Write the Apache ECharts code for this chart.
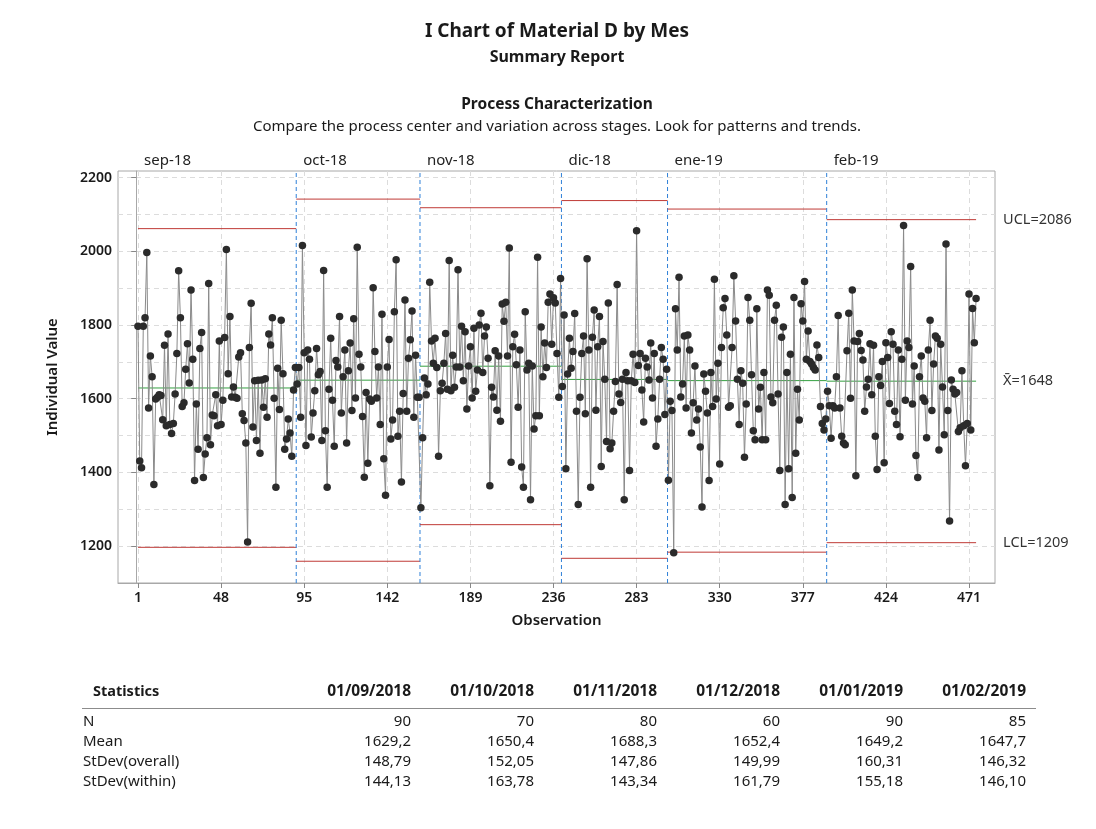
<!DOCTYPE html>
<html>
<head>
<meta charset="utf-8">
<title>I Chart of Material D by Mes</title>
<script src="https://cdn.jsdelivr.net/npm/echarts@6/dist/echarts.min.js"></script>
<style>
  html, body { margin: 0; padding: 0; background: #ffffff; }
  #chart { width: 1096px; height: 829px; }
</style>
</head>
<body>
<div id="chart"></div>
<script>
// Individual values per monthly stage
const sepValues = [1797,1431,1413,1797,1820,1997,1575,1716,1660,1367,
  1599,1604,1611,1609,1543,1745,1527,1776,1530,1506,
  1533,1613,1723,1947,1820,1579,1589,1680,1749,1643,
  1895,1707,1378,1586,1463,1736,1780,1386,1450,1494,
  1913,1475,1556,1554,1611,1527,1757,1530,1596,1766,
  2005,1668,1823,1605,1632,1604,1601,1713,1725,1559,
  1541,1480,1211,1739,1859,1523,1649,1487,1650,1452,
  1651,1577,1654,1550,1776,1746,1820,1601,1360,1683,
  1571,1813,1668,1463,1491,1545,1507,1444,1624,1685];
const octValues = [1640,1685,1550,2016,1725,1473,1732,1707,1496,1561,
  1622,1736,1665,1674,1487,1948,1513,1360,1626,1764,
  1596,1471,1704,1686,1823,1561,1660,1732,1480,1676,
  1751,1568,1817,1602,2011,1721,1686,1552,1387,1617,
  1425,1599,1593,1901,1728,1602,1686,1530,1829,1437,
  1338,1686,1761,1491,1542,1836,1977,1498,1566,1374,
  1614,1868,1566,1710,1760,1838,1550,1718,1604,1604];
const novValues = [1304,1494,1656,1611,1640,1916,1757,1696,1764,1685,
  1444,1622,1642,1696,1777,1626,1975,1622,1718,1631,
  1686,1950,1686,1797,1649,1782,1572,1689,1741,1602,
  1791,1620,1678,1800,1832,1671,1770,1795,1710,1364,
  1631,1605,1730,1569,1716,1539,1857,1810,1862,1716,
  2009,1428,1741,1775,1692,1577,1732,1415,1360,1836,
  1678,1696,1326,1689,1518,1554,1984,1554,1795,1660,
  1751,1685,1862,1884,1748,1874,1860,1723,1604,1926];
const dicValues = [1633,1827,1410,1667,1764,1683,1728,1831,1566,1313,
  1604,1723,1770,1559,1980,1732,1360,1767,1841,1569,
  1741,1823,1416,1755,1653,1484,1860,1464,1480,1566,
  1647,1910,1613,1590,1653,1326,1671,1649,1405,1649,
  1721,1644,2056,1690,1723,1624,1537,1710,1686,1651,
  1751,1602,1723,1471,1545,1653,1739,1707,1557,1680];
const eneValues = [1379,1593,1568,1182,1844,1732,1930,1605,1640,1770,
  1575,1773,1732,1507,1589,1689,1542,1572,1469,1306,
  1667,1620,1561,1378,1671,1579,1924,1599,1696,1423,
  1739,1847,1872,1773,1577,1581,1739,1934,1811,1653,
  1530,1676,1642,1441,1586,1875,1813,1665,1513,1489,
  1844,1572,1631,1489,1671,1489,1895,1881,1605,1589,
  1813,1854,1613,1405,1767,1795,1313,1671,1410,1721,
  1332,1875,1452,1626,1542,1858,1811,1918,1707,1784,
  1701,1694,1685,1678,1746,1712,1579,1533,1515,1545];
const febValues = [1620,1581,1493,1581,1575,1660,1826,1575,1498,1480,
  1475,1730,1832,1601,1895,1757,1391,1755,1777,1731,
  1705,1566,1632,1653,1749,1611,1745,1498,1408,1660,
  1636,1701,1426,1752,1712,1587,1782,1748,1566,1530,
  1732,1497,1707,2070,1596,1757,1739,1959,1586,1689,
  1446,1386,1660,1716,1602,1593,1494,1732,1813,1568,
  1694,1770,1764,1461,1748,1632,1502,2020,1568,1268,
  1651,1626,1613,1617,1511,1521,1676,1527,1418,1533,
  1884,1515,1845,1752,1872];

// Stage summary statistics
const stageNames = ['sep-18','oct-18','nov-18','dic-18','ene-19','feb-19'];
const stageDates = ['01/09/2018','01/10/2018','01/11/2018','01/12/2018','01/01/2019','01/02/2019'];
const stageN = [90,70,80,60,90,85];
const stageMean = [1629.2,1650.4,1688.3,1652.4,1649.2,1647.7];
const stageSdOverall = [148.79,152.05,147.86,149.99,160.31,146.32];
const stageSdWithin = [144.13,163.78,143.34,161.79,155.18,146.10];

// Axis ticks
const xTicks = [1,48,95,142,189,236,283,330,377,424,471];
const yTicks = [1200,1400,1600,1800,2000,2200];
const yGridLines = [1200,1300,1400,1500,1600,1700,1800,1900,2000,2100,2200];

const stageValues = [sepValues, octValues, novValues, dicValues, eneValues, febValues];

const FONT = 'Noto Sans';
const RED = '#bf3a36';
const GREEN = '#34a040';
const BLUE = '#2f80d8';
const Y_MIN = 1100, Y_MAX = 2218;

// observation index / value pairs
const points = [];
let obs = 0;
stageValues.forEach(arr => arr.forEach(v => { obs += 1; points.push([obs, v]); }));

// stage extents and limits (centre ± 3 σ within)
const stages = [];
let cum = 0;
stageN.forEach((n, i) => {
  const first = cum + 1, last = cum + n;
  stages.push({ first, last, mean: stageMean[i],
    ucl: stageMean[i] + 3 * stageSdWithin[i],
    lcl: stageMean[i] - 3 * stageSdWithin[i] });
  cum = last;
});
const stageStarts = stages.map(s => s.first - 0.5);

// one short line series per limit segment, plus dashed stage separators
const limitSeries = [];
stages.forEach((s, i) => {
  const isLast = i === stages.length - 1;
  const x0 = i === 0 ? s.first : s.first - 0.5;
  const x1 = isLast ? s.last : s.last + 0.5;
  const seg = (y, color, txt) => ({
    type: 'line', silent: true, z: 1, symbol: 'none', animation: false,
    data: [[x0, y], [x1, y]],
    lineStyle: { color, width: 1, type: 'solid' },
    emphasis: { disabled: true },
    endLabel: isLast ? { show: true, formatter: txt, distance: 27, color: '#333',
      fontFamily: FONT, fontSize: 14.5 } : { show: false }
  });
  limitSeries.push(seg(s.ucl, RED, 'UCL=' + Math.round(s.ucl)));
  limitSeries.push(seg(s.lcl, RED, 'LCL=' + Math.round(s.lcl)));
  limitSeries.push(seg(s.mean, GREEN, 'X\u0304=' + Math.round(s.mean)));
  if (!isLast) {
    const b = s.last + 0.5;
    limitSeries.push({
      type: 'line', silent: true, z: 1, symbol: 'none', animation: false,
      data: [[b, Y_MIN], [b, Y_MAX]],
      lineStyle: { color: BLUE, width: 1, type: [4, 3] },
      emphasis: { disabled: true }
    });
  }
});

const fmt = (v, d) => v.toFixed(d).replace('.', ',');
const tableRows = [
  ['N', stageN.map(String)],
  ['Mean', stageMean.map(v => fmt(v, 1))],
  ['StDev(overall)', stageSdOverall.map(v => fmt(v, 2))],
  ['StDev(within)', stageSdWithin.map(v => fmt(v, 2))]
];
const colRight = [411, 534, 657, 780, 903, 1026];
const graphics = [];
const addText = (x, y, text, opt) => graphics.push({ type: 'text', x, y, style: Object.assign({
  text, fill: '#1a1a1a', font: '15px "' + FONT + '"', textAlign: 'left', textVerticalAlign: 'middle' }, opt || {}) });

addText(557, 32, 'I Chart of Material D by Mes', { font: 'bold 19px "' + FONT + '"', textAlign: 'center' });
addText(557, 57, 'Summary Report', { font: 'bold 16px "' + FONT + '"', textAlign: 'center' });
addText(557, 105, 'Process Characterization', { font: 'bold 15.5px "' + FONT + '"', textAlign: 'center' });
addText(557, 127, 'Compare the process center and variation across stages. Look for patterns and trends.', { font: '15px "' + FONT + '"', textAlign: 'center' });

addText(93, 692, 'Statistics', { font: 'bold 14.5px "' + FONT + '"' });
stageDates.forEach((d, i) => addText(colRight[i], 692, d, { font: 'bold 15.5px "' + FONT + '"', textAlign: 'right' }));
graphics.push({ type: 'line', shape: { x1: 82, y1: 708.5, x2: 1036, y2: 708.5 }, style: { stroke: '#8c8c8c', lineWidth: 1 } });
tableRows.forEach((row, r) => {
  const y = 722 + r * 20;
  addText(83, y, row[0]);
  row[1].forEach((v, i) => addText(colRight[i], y, v, { textAlign: 'right' }));
});

const chart = echarts.init(document.getElementById('chart'), null, { renderer: 'canvas' });
chart.setOption({
  animation: false,
  backgroundColor: '#ffffff',
  textStyle: { fontFamily: FONT },
  grid: { left: 118, right: 101, top: 171, bottom: 246, show: true, borderColor: '#a8a8a8', borderWidth: 1 },
  xAxis: [{
    type: 'value', min: -10.3, max: 485.7, position: 'bottom',
    name: 'Observation', nameLocation: 'middle', nameGap: 30,
    nameTextStyle: { fontFamily: FONT, fontSize: 15, fontWeight: 600, color: '#1a1a1a' },
    axisLine: { show: true, lineStyle: { color: '#a8a8a8' } },
    axisTick: { show: true, length: 5, customValues: xTicks, lineStyle: { color: '#888' } },
    axisLabel: { customValues: xTicks, fontFamily: FONT, fontSize: 14, fontWeight: 600, color: '#1a1a1a', margin: 8,
      formatter: v => String(v) },
    splitLine: { show: true, lineStyle: { color: '#dcdcdc', type: [5, 4] } }
  }, {
    type: 'value', min: -10.3, max: 485.7, position: 'top',
    axisLine: { show: false }, axisTick: { show: false }, splitLine: { show: false },
    axisLabel: {
      customValues: stageStarts, align: 'left', margin: 3, padding: [0, 0, 0, 7],
      fontFamily: FONT, fontSize: 15, color: '#222',
      formatter: v => { const i = stageStarts.findIndex(s => Math.abs(s - v) < 1e-6); return i >= 0 ? stageNames[i] : ''; }
    }
  }],
  yAxis: [{
    type: 'value', min: Y_MIN, max: Y_MAX, position: 'left',
    name: 'Individual Value', nameLocation: 'middle', nameGap: 58,
    nameTextStyle: { fontFamily: FONT, fontSize: 15, fontWeight: 600, color: '#1a1a1a' },
    axisLine: { show: true, lineStyle: { color: '#a8a8a8' } },
    axisTick: { show: true, length: 5, customValues: yTicks, lineStyle: { color: '#888' } },
    axisLabel: { customValues: yTicks, fontFamily: FONT, fontSize: 14, fontWeight: 600, color: '#1a1a1a', margin: 6,
      formatter: v => String(v) },
    splitLine: { show: false }
  }, {
    type: 'value', min: Y_MIN, max: Y_MAX, position: 'left',
    axisLine: { show: false }, axisLabel: { show: false },
    axisTick: { show: false, customValues: yGridLines },
    splitLine: { show: true, lineStyle: { color: '#dcdcdc', type: [5, 4] } }
  }],
  series: limitSeries.concat([{
    type: 'line', data: points, xAxisIndex: 0, yAxisIndex: 0, z: 3,
    showSymbol: true, showAllSymbol: true, symbol: 'circle', symbolSize: 7.5,
    itemStyle: { color: '#2b2b2b' },
    lineStyle: { color: '#8a8a8a', width: 1 },
    emphasis: { disabled: true }
  }]),
  graphic: graphics
});
</script>
</body>
</html>
